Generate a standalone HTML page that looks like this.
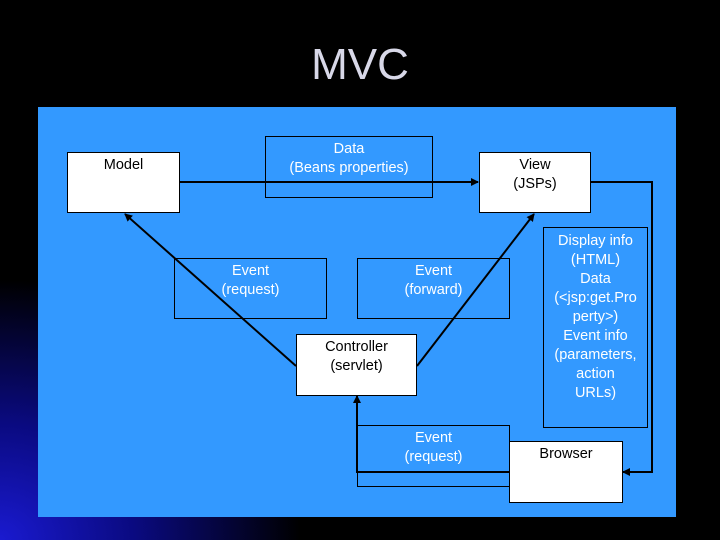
<!DOCTYPE html>
<html><head><style>
body{margin:0;width:720px;height:540px;overflow:hidden;background:#000;font-family:"Liberation Sans",sans-serif;position:relative}
.bg{position:absolute;inset:0;background:radial-gradient(ellipse 300px 260px at 0px 540px,#1a1ad0 0%,#0a0a80 45%,#000 100%)}
.t{position:absolute;left:0;width:720px;top:40px;text-align:center;color:#d8d8e8;font-size:44px}
.p{position:absolute;left:38px;top:107px;width:638px;height:410px;background:#3399ff}
.b{position:absolute;box-sizing:border-box;border:1px solid #000;text-align:center;font-size:14.5px;line-height:19px;padding-top:3px}
.w{background:#fff;color:#000}
.c{color:#fff}
svg{position:absolute;left:0;top:0}
</style></head><body>
<div class="bg"></div>
<div class="t">MVC</div>
<div class="p"></div>
<div class="b c" style="left:265px;top:136px;width:168px;height:62px">Data<br>(Beans properties)</div>
<div class="b c" style="left:174px;top:258px;width:153px;height:61px">Event<br>(request)</div>
<div class="b c" style="left:357px;top:258px;width:153px;height:61px">Event<br>(forward)</div>
<div class="b c" style="left:543px;top:227px;width:105px;height:201px;padding-top:4px">Display info<br>(HTML)<br>Data<br>(&lt;jsp:get.Pro<br>perty&gt;)<br>Event info<br>(parameters,<br>action<br>URLs)</div>
<div class="b c" style="left:357px;top:425px;width:153px;height:62px">Event<br>(request)</div>
<div class="b w" style="left:67px;top:152px;width:113px;height:61px">Model</div>
<div class="b w" style="left:479px;top:152px;width:112px;height:61px">View<br>(JSPs)</div>
<div class="b w" style="left:296px;top:334px;width:121px;height:62px">Controller<br>(servlet)</div>
<div class="b w" style="left:509px;top:441px;width:114px;height:62px">Browser</div>
<svg width="720" height="540">
<defs><marker id="a" markerWidth="8" markerHeight="8" refX="7" refY="4" orient="auto" markerUnits="userSpaceOnUse"><path d="M0,0L8,4L0,8z" fill="#000"/></marker></defs>
<g stroke="#000" stroke-width="2" fill="none">
<line x1="180" y1="182" x2="478" y2="182" marker-end="url(#a)"/>
<polyline points="591,182 652,182 652,472 623,472" marker-end="url(#a)"/>
<polyline points="509,472 357,472 357,396" marker-end="url(#a)"/>
<line x1="296" y1="366" x2="125" y2="214" marker-end="url(#a)"/>
<line x1="417" y1="366" x2="534" y2="214" marker-end="url(#a)"/>
</g></svg>
</body></html>
